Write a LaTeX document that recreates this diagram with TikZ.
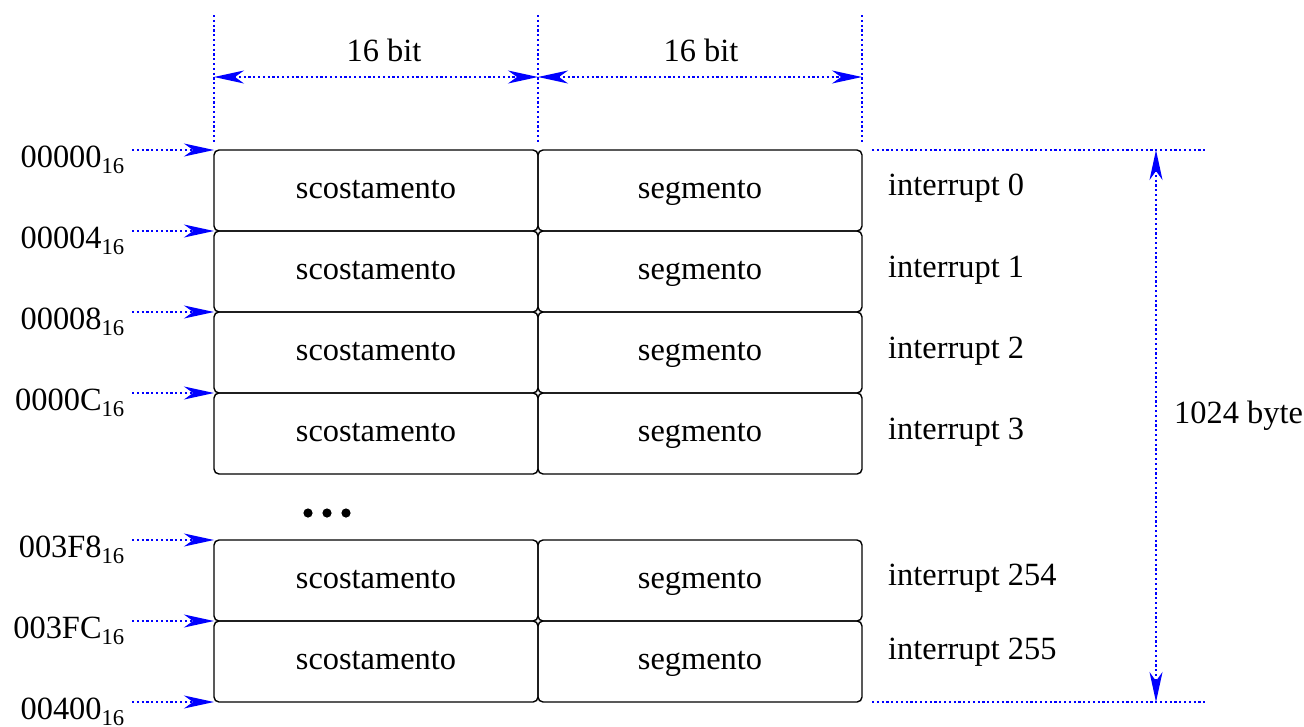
\documentclass[tikz,border=0pt]{standalone}
\usepackage{fontspec}
\setmainfont{Liberation Serif}
\usetikzlibrary{positioning, arrows.meta}

\begin{document}
\begin{tikzpicture}[x=1pt, y=-1pt, font=\fontsize{32.4}{38}\selectfont,
    cell/.style={draw, rounded corners=5pt, line width=1.4pt, minimum width=324pt, minimum height=81pt, inner sep=0pt, outer sep=0pt, text height=22pt, text depth=7pt},
    guide/.style={draw=blue, line width=1.6pt, dash pattern=on 2.2pt off 2.6pt},
    ptr/.style={guide, -{Stealth[length=30pt, width=13pt, inset=9pt]}},
    dim/.style={guide, {Stealth[length=30pt, width=13pt, inset=9pt]}-{Stealth[length=30pt, width=13pt, inset=9pt]}}]
    \useasboundingbox (0,0) rectangle (1304,726);

    % table rows
    \foreach \y/\n/\ly in {150/0/188, 231/1/270, 312/2/351, 393/3/432, 540/254/578, 621/255/652} {
        \node[cell, anchor=north west] (off \n) at (214,\y) {scostamento};
        \node[cell, anchor=west] (seg \n) at (off \n.east) {segmento};
        \node[anchor=west, inner sep=0pt] (int \n) at (888,\ly) {interrupt \n};
    }

    % more rows omitted
    \foreach \x in {308, 327, 346}
        \fill (\x,513) circle (4.6);

    % addresses
    \foreach \y/\a [count=\i] in {150/00000, 231/00004, 312/00008, 393/0000C, 540/003F8, 621/003FC, 702/00400} {
        \coordinate (addr \i p) at (214,\y);
        \coordinate (addr \i s) at (132,\y);
        \draw[ptr] (addr \i s) -- (addr \i p);
        \node[anchor=base east, inner sep=0pt] (addr \i) at (125,\y+17) {\a\textsubscript{16}};
    }

    % width of the columns
    \foreach \x [count=\i] in {214, 538, 862} {
        \coordinate (top \i) at (\x,15);
        \coordinate (bot \i) at (\x,143);
        \draw[guide] (top \i) -- (bot \i);
        \coordinate (dim \i) at (\x,77);
    }
    \draw[dim] (dim 1) -- (dim 2);
    \draw[dim] (dim 2) -- (dim 3);
    \node (bits a) at (384,50) {16 bit};
    \node (bits b) at (701,50) {16 bit};

    % size of the table
    \coordinate (size top l) at (872,150);
    \coordinate (size top r) at (1205,150);
    \coordinate (size bot l) at (872,702);
    \coordinate (size bot r) at (1205,702);
    \draw[guide] (size top l) -- (size top r);
    \draw[guide] (size bot l) -- (size bot r);
    \coordinate (size a) at (1156,150);
    \coordinate (size b) at (1156,702);
    \draw[dim] (size a) -- (size b);
    \node[anchor=west, inner sep=0pt] (size) at (1174,416) {1024 byte};
\end{tikzpicture}
\end{document}
